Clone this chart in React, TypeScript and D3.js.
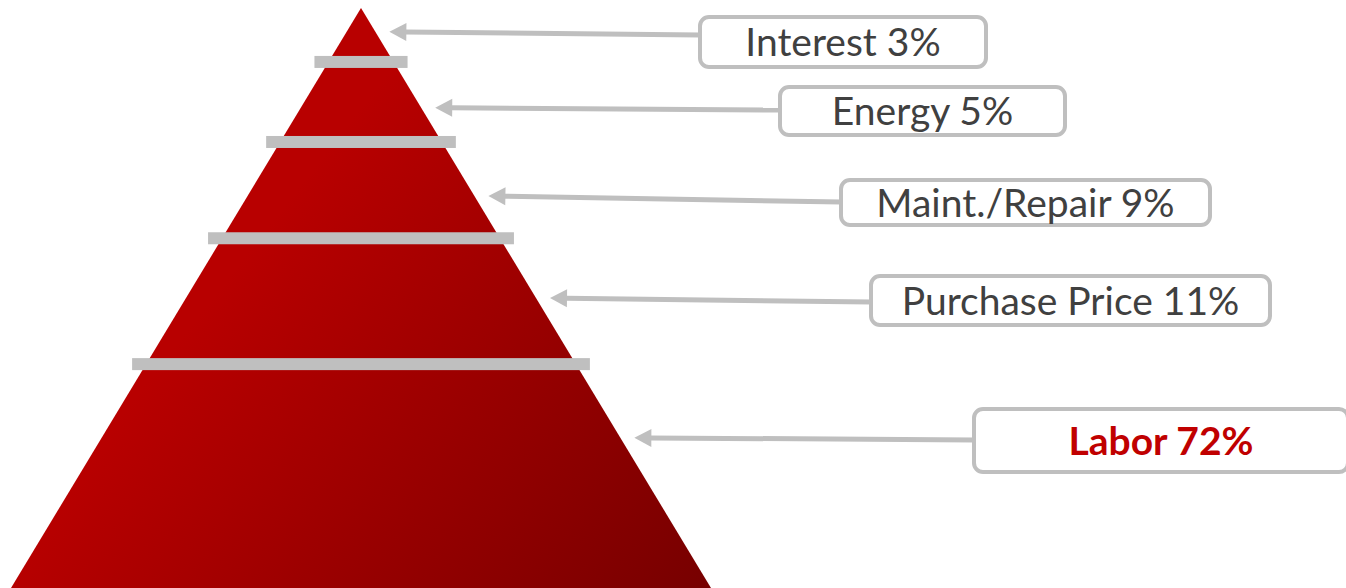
import * as d3 from "d3";

// Cost breakdown shown as a stacked pyramid with callouts
const categories = ["Interest", "Energy", "Maint./Repair", "Purchase Price", "Labor"];
const shares = [3, 5, 9, 11, 72];
// separator bars, as a fraction of the pyramid height measured from the apex
const separatorLevels = [0.093, 0.231, 0.397, 0.614];
// where each callout arrow touches the pyramid (fraction of height)
const calloutLevels = [0.041, 0.172, 0.324, 0.5, 0.741];
const highlight = "Labor";

// callout box geometry (annotation layout, not data)
const boxLeft = [698, 778, 839, 869, 972];
const boxTop = [15, 85, 178, 274, 407];
const boxWidth = [290, 289, 373, 403, 378];
const boxHeight = [54, 52, 49, 53, 67];
const connectorY = [35, 110, 202, 302, 440];

const W = 1346;
const H = 588;
const CX = 361;
const GRAY = "#bfbfbf";

export default function App() {
  const y = d3.scaleLinear().domain([0, 1]).range([8, 588]);
  const halfW = d3.scaleLinear().domain([0, 1]).range([0, 350]);

  const pyramid = d3.line<[number, number]>()([
    [CX, y(0)],
    [CX + halfW(1), y(1)],
    [CX - halfW(1), y(1)],
  ]) + "Z";

  const fontSize = 39;

  return (
    <svg
      width={W}
      height={H}
      viewBox={`0 0 ${W} ${H}`}
      style={{ position: "fixed", left: 0, top: 0, background: "#fff" }}
    >
      <defs>
        <linearGradient id="pyr" gradientUnits="userSpaceOnUse" x1={250} y1={250} x2={700} y2={600}>
          <stop offset="0" stopColor="#b80000" />
          <stop offset="1" stopColor="#770000" />
        </linearGradient>
      </defs>

      <path d={pyramid} fill="url(#pyr)" />

      {/* separator bars */}
      {separatorLevels.map((lv, i) => {
        const hw = halfW(lv) + 14;
        return (
          <rect key={i} x={CX - hw} y={y(lv) - 6} width={hw * 2} height={12} fill={GRAY} />
        );
      })}

      {/* arrows */}
      {calloutLevels.map((lv, i) => {
        const tipX = CX + halfW(lv) + 14;
        const tipY = y(lv);
        const endX = boxLeft[i];
        const endY = connectorY[i];
        const ang = Math.atan2(endY - tipY, endX - tipX);
        const len = 17;
        const hh = 9;
        const bx = tipX + Math.cos(ang) * len;
        const by = tipY + Math.sin(ang) * len;
        const nx = -Math.sin(ang);
        const ny = Math.cos(ang);
        const head = `M${tipX},${tipY}L${bx + nx * hh},${by + ny * hh}L${bx - nx * hh},${by - ny * hh}Z`;
        return (
          <g key={i}>
            <line x1={bx - Math.cos(ang)} y1={by - Math.sin(ang)} x2={endX + 2} y2={endY} stroke={GRAY} strokeWidth={5} />
            <path d={head} fill={GRAY} />
          </g>
        );
      })}

      {/* callout boxes */}
      {categories.map((c, i) => {
        const isHi = c === highlight;
        const cy = boxTop[i] + boxHeight[i] / 2;
        return (
          <g key={c}>
            <rect
              x={boxLeft[i] + 2}
              y={boxTop[i] + 2}
              width={boxWidth[i] - 4}
              height={boxHeight[i] - 4}
              rx={9}
              fill="#fff"
              stroke={GRAY}
              strokeWidth={4}
            />
            <text
              x={boxLeft[i] + boxWidth[i] / 2}
              y={cy + fontSize * 0.36}
              textAnchor="middle"
              fontFamily="Lato, 'Open Sans', sans-serif"
              fontSize={fontSize}
              fontWeight={isHi ? 700 : 400}
              fill={isHi ? "#c00000" : "#404040"}
            >
              {`${c} ${shares[i]}%`}
            </text>
          </g>
        );
      })}
    </svg>
  );
}
